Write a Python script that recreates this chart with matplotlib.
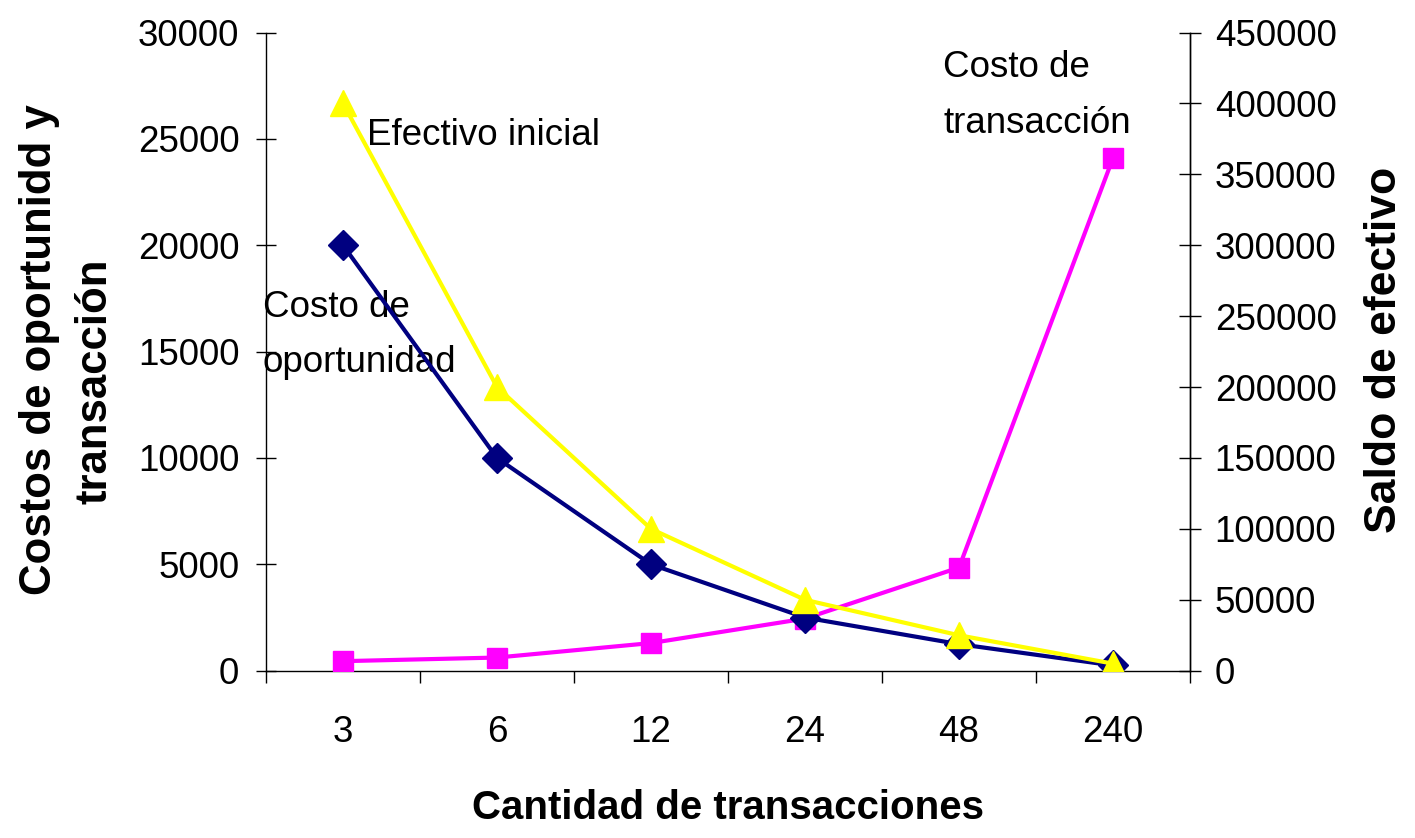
import matplotlib
matplotlib.use("Agg")
from matplotlib import pyplot as plt
from matplotlib.ticker import FixedLocator, MultipleLocator

plt.rcParams['font.family'] = ['Liberation Sans', 'DejaVu Sans']

# categories on the x axis
transacciones = ["3", "6", "12", "24", "48", "240"]

# left axis series
costo_oportunidad = [20000, 10000, 5000, 2500, 1250, 250]
costo_transaccion = [450, 620, 1300, 2450, 4850, 24100]

# right axis series
efectivo_inicial = [400000, 200000, 100000, 50000, 25000, 5000]

fig = plt.figure(figsize=(14.15, 8.38), dpi=100)
ax = fig.add_axes([0.188, 0.1996, 0.653, 0.7616])
ax2 = ax.twinx()

x = list(range(len(transacciones)))

# magenta first so navy sits on top of it
ax.plot(x, costo_transaccion, color="#FF00FF", lw=3, marker="s", ms=15,
        solid_joinstyle="round", zorder=3)
ax.plot(x, costo_oportunidad, color="#000080", lw=3, marker="D", ms=15.5,
        zorder=4)
ax2.plot(x, efectivo_inicial, color="#FFFF00", lw=3, marker="^", ms=19,
         zorder=5)

ax.set_xlim(-0.5, len(transacciones) - 0.5)
ax.set_ylim(0, 30000)
ax2.set_ylim(0, 450000)
ax.yaxis.set_major_locator(MultipleLocator(5000))
ax2.yaxis.set_major_locator(MultipleLocator(50000))

# x ticks: labels at the categories, tick marks between them
ax.set_xticks(x)
ax.set_xticklabels(transacciones)
ax.xaxis.set_minor_locator(FixedLocator([i - 0.5 for i in range(len(x) + 1)]))
ax.tick_params(axis="x", which="major", length=0, labelsize=26.5, pad=32)
ax.tick_params(axis="x", which="minor", direction="out", length=8.3, width=1)

ax.tick_params(axis="y", direction="inout", length=14.4, width=1, labelsize=26.5, pad=12)
ax2.tick_params(axis="y", direction="inout", length=15.5, width=1, labelsize=26.5, pad=10)

for a in (ax, ax2):
    a.spines["top"].set_visible(False)
    for s in a.spines.values():
        s.set_linewidth(1)
ax2.spines["left"].set_visible(False)
ax2.spines["bottom"].set_visible(False)
ax.patch.set_visible(False)

# axis titles
fig.text(0.5 * (470 + 985) / 1415, 1 - 808 / 838, "Cantidad de transacciones",
         ha="center", va="center", fontsize=29, fontweight="bold")
fig.text(40 / 1415, 1 - 350 / 838, "Costos de oportunidd y",
         rotation=90, ha="center", va="center", fontsize=31.5, fontweight="bold")
fig.text(95 / 1415, 1 - 381 / 838, "transacción",
         rotation=90, ha="center", va="center", fontsize=31.5, fontweight="bold")
fig.text(1385 / 1415, 1 - 350 / 838, "Saldo de efectivo",
         rotation=90, ha="center", va="center", fontsize=32, fontweight="bold")

# series labels inside the plot
ax.text(0.156, 24700, "Efectivo inicial", fontsize=26.5, va="baseline", ha="left")
ax.text(-0.52, 16626, "Costo de", fontsize=26.5, va="baseline", ha="left")
ax.text(-0.52, 14040, "oportunidad", fontsize=26.5, va="baseline", ha="left")
ax.text(3.896, 27910, "Costo de", fontsize=26.5, va="baseline", ha="left")
ax.text(3.896, 25278, "transacción", fontsize=26.5, va="baseline", ha="left")

fig.savefig("out.png", dpi=100)
